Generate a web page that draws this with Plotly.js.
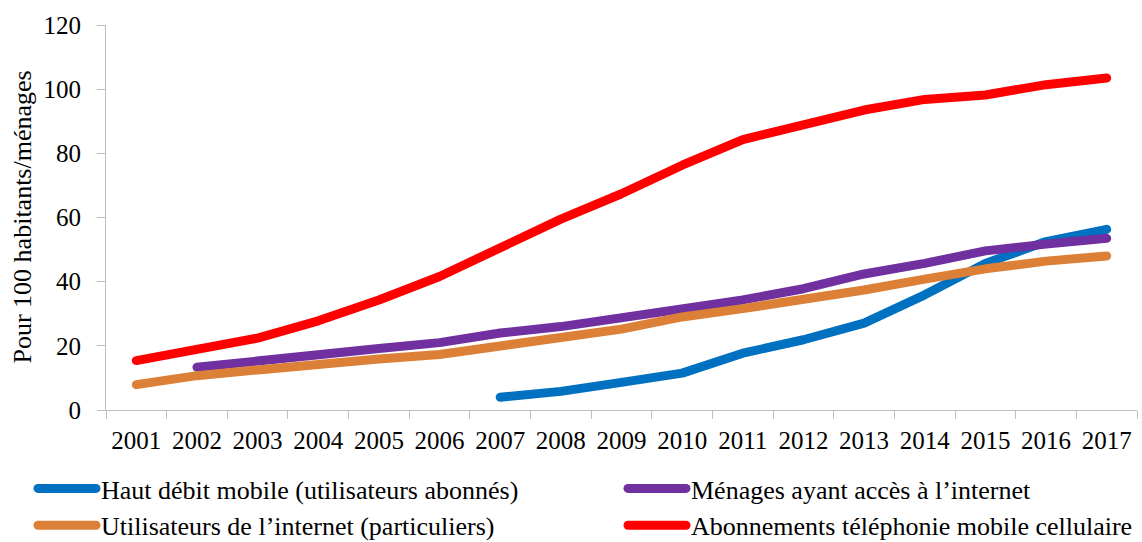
<!DOCTYPE html>
<html>
<head>
<meta charset="utf-8">
<script src="https://cdn.plot.ly/plotly-3.0.1.min.js"></script>
<style>
  html, body { margin: 0; padding: 0; background: #fff; }
  #chart { width: 1142px; height: 542px; }
  .scatterlayer .js-line, .legendlines path { stroke-linecap: round; stroke-linejoin: round; }
</style>
</head>
<body>
<div id="chart"></div>
<script>
// Years on the category axis
const years = ['2001','2002','2003','2004','2005','2006','2007','2008','2009',
               '2010','2011','2012','2013','2014','2015','2016','2017'];

// Mobile broadband subscribers (from 2007)
const hautDebitMobile = [null, null, null, null, null, null, 4.0, 5.8, 8.6,
                         11.5, 17.7, 21.9, 27.1, 35.9, 45.7, 52.5, 56.3];
// Households with internet access (from 2002)
const menagesInternet = [null, 13.3, 15.5, 17.2, 19.2, 21.0, 24.0, 26.0, 28.6,
                         31.0, 34.3, 37.8, 42.4, 45.7, 49.6, 51.7, 53.5];
// Individuals using the internet
const utilisateursInternet = [7.9, 10.7, 12.5, 14.4, 15.9, 17.3, 20.2, 22.6, 25.2,
                              29.0, 31.6, 34.3, 37.4, 40.8, 44.0, 46.4, 48.0];
// Mobile cellular subscriptions
const telephonieMobile = [15.4, 18.8, 22.4, 27.8, 34.3, 41.6, 50.9, 59.5, 67.4,
                          76.3, 84.3, 89.0, 93.5, 96.8, 98.2, 101.4, 103.5];

const seriesNames = [
  'Haut débit mobile (utilisateurs abonnés)',
  'Ménages ayant accès à l\u2019internet',
  'Utilisateurs de l\u2019internet (particuliers)',
  'Abonnements téléphonie mobile cellulaire'
];
const seriesColors = ['#0070C0', '#7030A0', '#DC8038', '#FF0000'];
const seriesValues = [hautDebitMobile, menagesInternet, utilisateursInternet, telephonieMobile];
// Left legend column holds the 1st and 3rd series, right column the 2nd and 4th
const seriesLegend = ['legend', 'legend2', 'legend', 'legend2'];

const yTitle = 'Pour 100 habitants/ménages';

const FONT = '"Liberation Serif", serif';

const traces = seriesValues.map((vals, i) => ({
  type: 'scatter',
  mode: 'lines',
  x: years,
  y: vals,
  name: seriesNames[i],
  legend: seriesLegend[i],
  connectgaps: false,
  line: { color: seriesColors[i], width: 9 },
  hoverinfo: 'x+y+name'
}));

const legendBase = {
  orientation: 'v',
  xref: 'container',
  yref: 'container',
  xanchor: 'left',
  yanchor: 'top',
  y: 0.142,
  itemwidth: 58,
  tracegroupgap: 0,
  font: { family: FONT, size: 26, color: '#000000' },
  bgcolor: 'rgba(0,0,0,0)',
  borderwidth: 0
};

const layout = {
  width: 1142,
  height: 542,
  margin: { l: 106, r: 5, t: 25, b: 132, autoexpand: false },
  paper_bgcolor: '#ffffff',
  plot_bgcolor: '#ffffff',
  font: { family: FONT, size: 25, color: '#000000' },
  showlegend: true,
  legend: Object.assign({}, legendBase, { x: 33 / 1142 }),
  legend2: Object.assign({}, legendBase, { x: 623 / 1142 }),
  xaxis: {
    type: 'category',
    range: [-0.5, 16.5],
    tickangle: 0,
    showgrid: false,
    zeroline: false,
    showline: true,
    linecolor: '#bfbfbf',
    linewidth: 1,
    ticks: 'outside',
    tickson: 'boundaries',
    ticklen: 8,
    tickcolor: '#bfbfbf',
    ticklabelstandoff: 8,
    tickfont: { family: FONT, size: 25, color: '#000000' }
  },
  yaxis: {
    range: [0, 120],
    dtick: 20,
    tick0: 0,
    showgrid: false,
    zeroline: false,
    showline: true,
    linecolor: '#bfbfbf',
    linewidth: 1,
    ticks: 'outside',
    ticklen: 8,
    tickcolor: '#bfbfbf',
    ticklabelstandoff: 11,
    tickfont: { family: FONT, size: 25, color: '#000000' }
  },
  // vertical axis caption, placed left of the tick labels
  annotations: [{
    text: yTitle,
    xref: 'paper',
    yref: 'paper',
    x: 0,
    y: 0.5,
    xshift: -84,
    xanchor: 'center',
    yanchor: 'middle',
    textangle: -90,
    showarrow: false,
    font: { family: FONT, size: 26, color: '#000000' }
  }]
};

Plotly.newPlot('chart', traces, layout, { displayModeBar: false, staticPlot: true });
</script>
</body>
</html>
